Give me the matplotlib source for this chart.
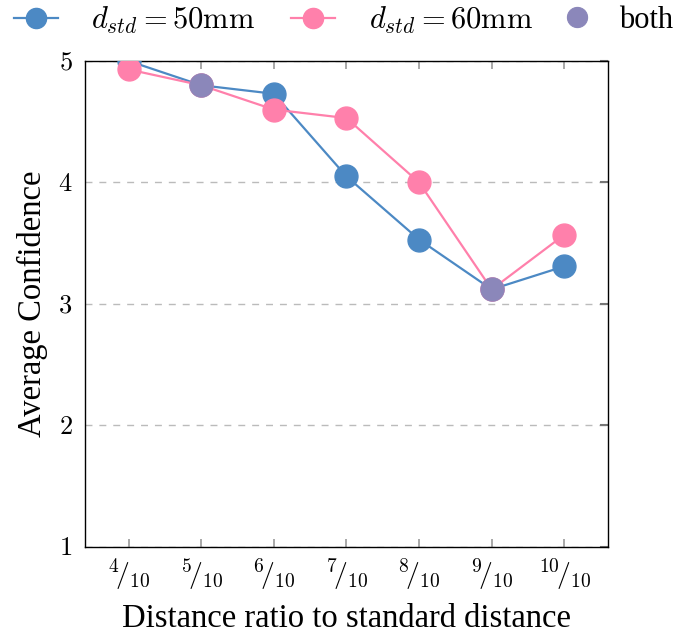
import matplotlib
matplotlib.use("Agg")
import matplotlib.pyplot as plt
import numpy as np

plt.rcParams['mathtext.fontset'] = 'cm'
plt.rcParams['font.family'] = ['Liberation Serif', 'DejaVu Serif']

categories = [r'${}^{4}\!/_{10}$', r'${}^{5}\!/_{10}$', r'${}^{6}\!/_{10}$', r'${}^{7}\!/_{10}$',
              r'${}^{8}\!/_{10}$', r'${}^{9}\!/_{10}$', r'${}^{10}\!/_{10}$']
d50 = [5.0, 4.8, 4.73, 4.05, 3.53, 3.12, 3.31]
d60 = [4.93, 4.8, 4.6, 4.53, 4.0, 3.12, 3.57]
yticks = [1, 2, 3, 4, 5]

blue = '#4C89C4'
pink = '#FF80AB'
purple = '#8B87BA'

fig = plt.figure(figsize=(6.8, 6.35), dpi=100)
ax = fig.add_axes([0.125, 0.1386, 0.769, 0.7654])
x = np.arange(len(categories))

ax.plot(x, d50, '-o', color=blue, lw=1.6, ms=16.5, mec=blue, label=r'$d_{std} = 50\mathrm{mm}$', zorder=3)
ax.plot(x, d60, '-o', color=pink, lw=1.6, ms=16.5, mec=pink, label=r'$d_{std} = 60\mathrm{mm}$', zorder=4)
both = [i for i in range(len(x)) if abs(d50[i] - d60[i]) < 1e-9]
ax.plot([x[i] for i in both], [d50[i] for i in both], 'o', ls='none', color=purple, ms=16.5,
        mec=pink, mew=0.8, label='both', zorder=5)

ax.set_xlim(-0.6, 6.6)
ax.set_ylim(1, 5)
ax.set_xticks(x)
ax.set_xticklabels(categories, fontsize=20)
ax.set_yticks(yticks)
ax.set_yticklabels([r'$%d$' % v for v in yticks], fontsize=19)
ax.yaxis.grid(True, ls=(0, (5, 5)), color='#bbbbbb', lw=1)
ax.set_axisbelow(True)

ax.tick_params(axis='x', which='both', direction='in', top=True, bottom=True, length=6,
               color='#999999', width=1.2, pad=7)
ax.tick_params(axis='y', which='both', direction='in', left=False, right=True, length=6,
               color='#777777', width=1.5, pad=9)
for s in ax.spines.values():
    s.set_linewidth(1.0)

ax.set_xlabel('Distance ratio to standard distance', fontsize=23.5, labelpad=8)
ax.set_ylabel('Average Confidence', fontsize=23.5, labelpad=7)

handles, labels = ax.get_legend_handles_labels()
handles[2].set_markeredgecolor(purple)
leg1 = fig.legend(handles[:2], labels[:2], loc='center', bbox_to_anchor=(0.4015, 0.9685), ncol=2,
                  frameon=False, fontsize=22, handlelength=1.45, columnspacing=1.15,
                  handletextpad=1.1, markerscale=0.88)
leg2 = fig.legend(handles[2:], labels[2:], loc='center', bbox_to_anchor=(0.903, 0.9685), ncol=1,
                  frameon=False, fontsize=22, handlelength=1.45, handletextpad=0.65,
                  markerscale=0.88)
for lg in (leg1, leg2):
    for t in lg.get_texts():
        t.set_fontfamily(['Liberation Serif'])

fig.savefig('out.png', dpi=100)
